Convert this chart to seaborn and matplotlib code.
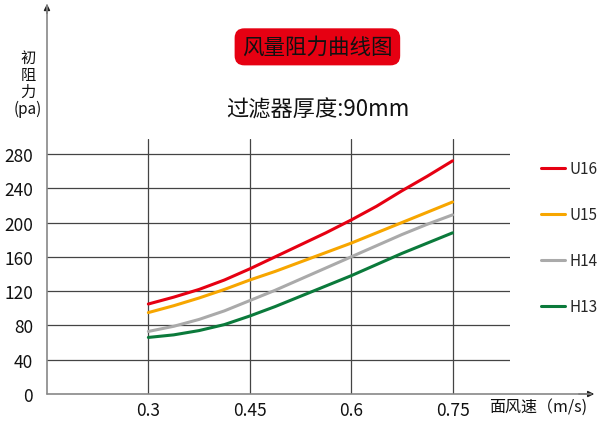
import numpy as np
import pandas as pd
import matplotlib
matplotlib.use("Agg")
import matplotlib.pyplot as plt
import seaborn as sns

# face velocity (m/s) and initial resistance (pa)
speed = [0.3, 0.3375, 0.375, 0.4125, 0.45, 0.4875, 0.525,
         0.5625, 0.6, 0.6375, 0.675, 0.7125, 0.75]
u16 = [105, 113, 122, 133, 146, 160, 174, 188, 203, 219, 237, 254, 272]
u15 = [95, 103, 112, 122, 133, 143, 154, 165, 176, 188, 200, 212, 224]
h14 = [73, 79, 87, 97, 109, 121, 134, 147, 160, 173, 186, 198, 209]
h13 = [66, 69, 74, 81, 91, 102, 114, 126, 138, 151, 164, 176, 188]
grades = ["U16", "U15", "H14", "H13"]
colors = ["#e60012", "#f7a600", "#aaaaaa", "#0b7a3b"]
y_ticks = [0, 40, 80, 120, 160, 200, 240, 280]
x_ticks = [0.3, 0.45, 0.6, 0.75]
x_tick_labels = ["0.3", "0.45", "0.6", "0.75"]

df = pd.DataFrame({
    "speed": speed * 4,
    "pa": u16 + u15 + h14 + h13,
    "grade": [g for g in grades for _ in speed],
})

sns.set_theme(style="white")
plt.rcParams["font.family"] = ["Noto Sans CJK SC", "DejaVu Sans"]

fig = plt.figure(figsize=(6, 4.31), dpi=100)
ax = fig.add_axes([0.0783, 0.0835, 0.7717, 0.5917])

sns.lineplot(data=df, x="speed", y="pa", hue="grade", hue_order=grades,
             palette=colors, linewidth=2.2, ax=ax)

ax.set_xlim(0.15, 0.835)
ax.set_ylim(0, 297.5)
ax.set_yticks(y_ticks)
ax.set_xticks(x_ticks)
ax.set_xticklabels(x_tick_labels)
ax.tick_params(axis="both", length=0, labelsize=12.5, colors="#111111")
ax.tick_params(axis="x", pad=5)
ax.tick_params(axis="y", pad=10)
ax.set_xlabel("")
ax.set_ylabel("")
for s in ax.spines.values():
    s.set_visible(False)

# grid: horizontal lines across, vertical ones at the speed ticks
for yv in y_ticks[1:]:
    ax.axhline(yv, color="#444444", linewidth=0.9, zorder=0)
for xv in x_ticks:
    ax.axvline(xv, color="#444444", linewidth=0.9, zorder=0)

# axis arrows
fig.add_artist(plt.Line2D([0.0783, 0.0783], [0.0835, 0.985], color="#888888", lw=1.2))
ax.annotate("", xy=(0.0783, 0.995), xytext=(0.0783, 0.96), xycoords="figure fraction",
            arrowprops=dict(arrowstyle="-|>", color="#222222", lw=1.0, mutation_scale=9))
fig.add_artist(plt.Line2D([0.0783, 0.985], [0.0835, 0.0835], color="#888888", lw=1.2))
ax.annotate("", xy=(0.995, 0.0835), xytext=(0.96, 0.0835), xycoords="figure fraction",
            arrowprops=dict(arrowstyle="-|>", color="#222222", lw=1.0, mutation_scale=9))

# titles
fig.text(0.529, 0.889, "风量阻力曲线图", ha="center", va="center", fontsize=15.5, color="#111111",
         bbox=dict(boxstyle="round,pad=0.35,rounding_size=0.45", fc="#e60012", ec="none"))
fig.text(0.53, 0.745, "过滤器厚度:90mm", ha="center", va="center", fontsize=16, color="#111111")
fig.text(0.047, 0.805, "初\n阻\n力\n(pa)", ha="center", va="center", fontsize=11,
         linespacing=1.0, color="#111111")
fig.text(0.815, 0.055, "面风速（m/s)", ha="left", va="center", fontsize=11.5, color="#111111")

leg = ax.legend(loc="upper left", bbox_to_anchor=(1.038, 0.97), frameon=False,
                fontsize=11, labelspacing=1.9, handlelength=1.55, handletextpad=0.3)
for line in leg.get_lines():
    line.set_linewidth(2.2)

fig.savefig("out.png", dpi=100)
